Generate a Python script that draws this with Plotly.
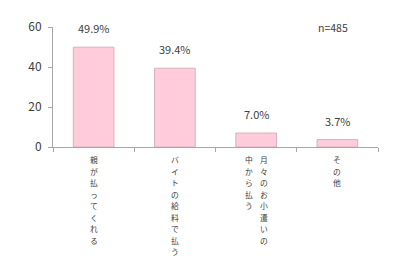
import plotly.graph_objects as go

categories = ["親が払ってくれる", "バイトの給料で払う", "月々のお小遣いの<br>中から払う", "その他"]
values = [49.9, 39.4, 7.0, 3.7]
value_labels = ["49.9%", "39.4%", "7.0%", "3.7%"]
y_ticks = [0, 20, 40, 60]
note = "n=485"

FONT = "Noto Sans CJK JP, sans-serif"
TXT = "#404040"

fig = go.Figure()
fig.add_trace(go.Bar(
    x=list(range(len(categories))), y=values, width=0.5,
    marker=dict(color="#FFCCDC", line=dict(color="#D9B0BF", width=1)),
    hoverinfo="skip",
))

annotations = []
for i, (v, t) in enumerate(zip(values, value_labels)):
    annotations.append(dict(x=i, y=v, xref="x", yref="y", text=t, showarrow=False,
                            yanchor="bottom", yshift=9,
                            font=dict(family=FONT, size=11, color=TXT)))

# vertical (tategaki) category labels, one character per annotation, columns right-to-left
col_gap = 15
char_size = 7.8
char_step = 11.5
for i, cat in enumerate(categories):
    cols = cat.split("<br>")
    n = len(cols)
    for c, col in enumerate(cols):
        xshift = ((n - 1) / 2 - c) * col_gap
        for k, ch in enumerate(col):
            annotations.append(dict(x=i, y=0, xref="x", yref="y", text=ch, showarrow=False,
                                    yanchor="top", xanchor="center", borderpad=0,
                                    xshift=xshift, yshift=-6 - k * char_step,
                                    font=dict(family=FONT, size=char_size, color=TXT)))

annotations.append(dict(x=0.86, y=1.0, xref="paper", yref="paper", text=note, showarrow=False,
                        xanchor="center", yanchor="middle",
                        font=dict(family=FONT, size=10.5, color=TXT)))

fig.update_layout(
    width=400, height=261,
    margin=dict(l=53, r=22, t=27, b=114),
    paper_bgcolor="white", plot_bgcolor="white",
    showlegend=False,
    annotations=annotations,
    bargap=0.5,
    xaxis=dict(
        tickmode="array", tickvals=[-0.5, 0.5, 1.5, 2.5, 3.5], ticktext=["", "", "", "", ""],
        range=[-0.5, 3.5], showline=True, linecolor="#A6A6A6", linewidth=1,
        ticks="outside", ticklen=4, tickcolor="#A6A6A6", showgrid=False, zeroline=False,
        fixedrange=True,
    ),
    yaxis=dict(
        range=[0, 60], tickvals=y_ticks, showline=True, linecolor="#A6A6A6", linewidth=1,
        ticks="outside", ticklen=4, tickcolor="#A6A6A6", showgrid=False, zeroline=False,
        tickfont=dict(family=FONT, size=12, color=TXT), ticklabelstandoff=4,
    ),
)

fig.write_html("out.html")
